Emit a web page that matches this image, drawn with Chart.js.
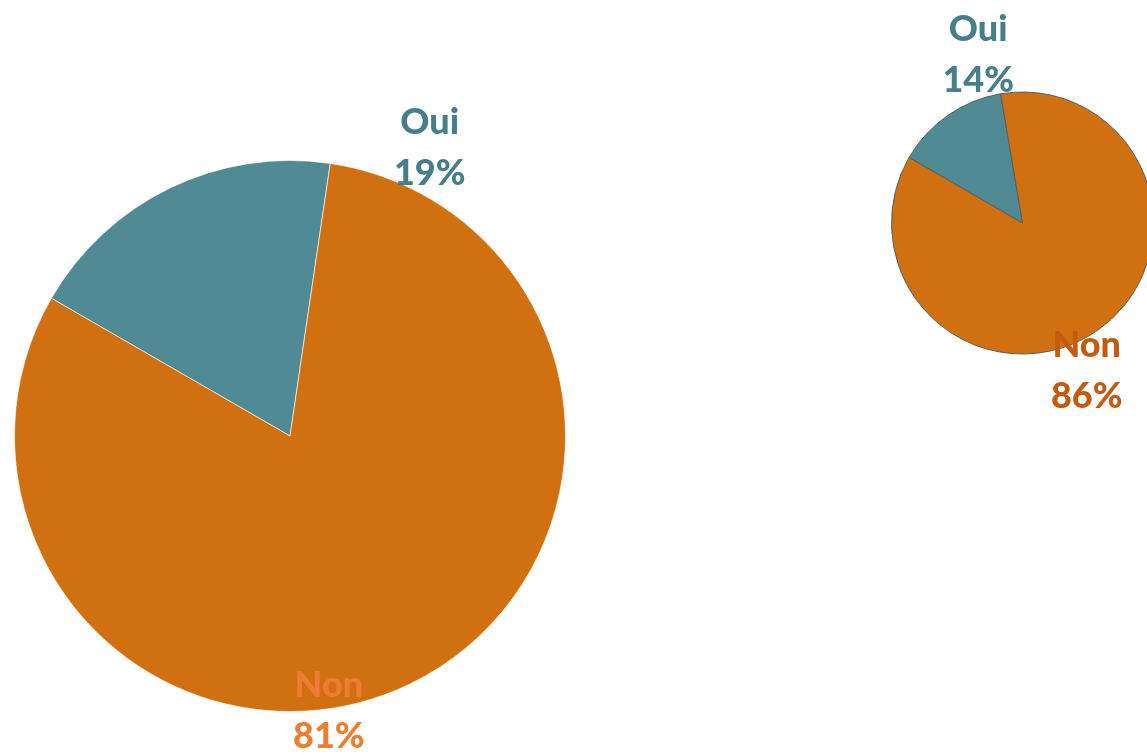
<!DOCTYPE html>
<html lang="fr">
<head>
    <meta charset="UTF-8">
    <title>Oui / Non</title>
    <script src="https://cdn.jsdelivr.net/npm/chart.js"></script>
    <style>
        html, body { margin: 0; padding: 0; background: #fff; overflow: hidden; width: 1147px; height: 755px; }
        canvas { position: absolute; top: 0; }
        #pieLeft { left: 0; }
        #pieRight { left: 700px; }
    </style>
</head>
<body>
    <canvas id="pieLeft" width="600" height="755"></canvas>
    <canvas id="pieRight" width="500" height="755"></canvas>
    <script>
        // Data
        const categories = ["Oui", "Non"];
        const leftValues = [19, 81];
        const rightValues = [14, 86];

        const sliceColors = ["#4F8A95", "#D17011"];

        // Draws "Oui / 19%" style labels outside the pie.
        // pos holds offsets from the pie centre, in units of the radius.
        const outsideLabels = {
            id: "outsideLabels",
            afterDraw(chart, args, opts) {
                const ctx = chart.ctx;
                const meta = chart.getDatasetMeta(0);
                const values = chart.data.datasets[0].data;
                const total = values.reduce((a, b) => a + b, 0);
                ctx.save();
                ctx.font = "900 36px Lato";
                ctx.textAlign = "center";
                ctx.textBaseline = "middle";
                meta.data.forEach((arc, i) => {
                    const p = opts.pos[i];
                    const x = arc.x + p[0] * arc.outerRadius;
                    const y = arc.y + p[1] * arc.outerRadius;
                    const pct = Math.round(values[i] / total * 100) + "%";
                    ctx.fillStyle = opts.colors[i];
                    ctx.fillText(chart.data.labels[i], x, y - 25);
                    ctx.fillText(pct, x, y + 26);
                });
                ctx.restore();
            }
        };

        function makePie(id, values, rotation, padding, border, labelPos, labelColors) {
            new Chart(document.getElementById(id), {
                type: "pie",
                data: {
                    labels: categories,
                    datasets: [{
                        data: values,
                        backgroundColor: sliceColors,
                        borderColor: border.color,
                        borderWidth: border.width,
                    }],
                },
                options: {
                    responsive: false,
                    animation: false,
                    rotation: rotation,
                    layout: { padding: padding },
                    plugins: {
                        legend: { display: false },
                        tooltip: { enabled: false },
                        outsideLabels: { pos: labelPos, colors: labelColors },
                    },
                },
                plugins: [outsideLabels],
            });
        }

        makePie("pieLeft", leftValues, -60,
            { left: 14, top: 160, right: 34, bottom: 43 },
            { color: "rgba(255,255,255,0.6)", width: 1 },
            [[0.507, -1.047], [0.141, 0.996]],
            ["#467F89", "#ED7D31"]);

        makePie("pieRight", rightValues, -60,
            { left: 191, top: 91.5, right: 46, bottom: 400.5 },
            { color: "#56605f", width: 1 },
            [[-0.338, -1.29], [0.49, 1.125]],
            ["#467F89", "#C55A11"]);
    </script>
</body>
</html>
